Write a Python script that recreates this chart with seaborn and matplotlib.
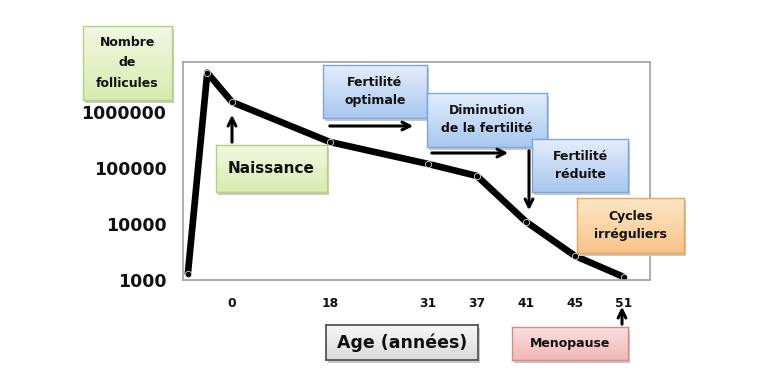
import numpy as np
import matplotlib
matplotlib.use('Agg')
import matplotlib.pyplot as plt
from matplotlib.colors import LinearSegmentedColormap
from matplotlib.patches import FancyArrowPatch
import seaborn as sns

# follicle count through life
AGES = [-0.75, -0.42, 0, 18, 31, 37, 41, 45, 51]
FOLLICLES = [1300, 5000000, 1500000, 290000, 118000, 72000, 11000, 2700, 1130]
AGE_TICKS = [0, 18, 31, 37, 41, 45, 51]
COUNT_TICKS = [1000, 10000, 100000, 1000000]

# the age axis is not linear: late ticks are evenly spaced
AGE_BREAKS = [-1, 0, 18, 31, 37, 41, 45, 51, 60]
SLOT_BREAKS = [-1.2, 0, 2, 4, 5, 6, 7, 8, 9.5]

W, H = 775, 371


def frac(x0, y0, x1, y1):
    # pixel box (top-left origin) -> figure fraction rect
    return [x0 / W, 1 - y1 / H, (x1 - x0) / W, (y1 - y0) / H]


def pt(x, y):
    return (x / W, 1 - y / H)


def box(fig, x0, y0, x1, y1, text, top, bottom, edge, size, lw=1.0, ls=1.5):
    sh = fig.add_axes(frac(x0 + 2, y0 + 3, x1 + 2, y1 + 3))
    sh.set_facecolor('#c8c8c8')
    sh.set_xticks([]); sh.set_yticks([])
    for s in sh.spines.values():
        s.set_visible(False)
    bx = fig.add_axes(frac(x0, y0, x1, y1))
    cmap = LinearSegmentedColormap.from_list('grad', [top, bottom])
    bx.imshow(np.linspace(0, 1, 60).reshape(-1, 1), cmap=cmap, aspect='auto',
              extent=(0, 1, 0, 1))
    bx.set_xlim(0, 1); bx.set_ylim(0, 1)
    bx.set_xticks([]); bx.set_yticks([])
    for s in bx.spines.values():
        s.set_color(edge)
        s.set_linewidth(lw)
    bx.text(0.5, 0.5, text, ha='center', va='center', fontsize=size,
            fontweight='bold', linespacing=ls, color='#111111')


def arrow(fig, tail, head):
    a = FancyArrowPatch(pt(*tail), pt(*head), transform=fig.transFigure,
                        arrowstyle='->', mutation_scale=14, lw=2.2,
                        color='black', zorder=10)
    fig.add_artist(a)


sns.set_style('white')
plt.rcParams['font.family'] = ['DejaVu Sans']

fig = plt.figure(figsize=(W / 100, H / 100), dpi=100)
ax = fig.add_axes(frac(183, 62, 650, 280))

ax.set_xscale('function', functions=(lambda a: np.interp(a, AGE_BREAKS, SLOT_BREAKS),
                                     lambda s: np.interp(s, SLOT_BREAKS, AGE_BREAKS)))
ax.set_yscale('log')

sns.lineplot(x=AGES, y=FOLLICLES, ax=ax, color='black', lw=4.8, sort=False,
             marker='o', markersize=4.5, markerfacecolor='black',
             markeredgecolor='#dddddd', markeredgewidth=0.6)

ax.set_xlim(-0.833, 54.2)
ax.set_ylim(1000, 10 ** 6.89)
ax.set_xticks(AGE_TICKS)
ax.set_xticklabels([str(a) for a in AGE_TICKS], fontsize=8.8, fontweight='bold',
                   color='#111111')
ax.set_yticks(COUNT_TICKS)
ax.set_yticklabels([str(c) for c in COUNT_TICKS], fontsize=12.5, fontweight='bold',
                   color='#111111')
ax.yaxis.set_minor_locator(matplotlib.ticker.NullLocator())
ax.tick_params(axis='x', direction='in', length=6, width=1, color='#777777', pad=12)
ax.tick_params(axis='y', length=0, pad=12)
ax.set_xlabel('')
ax.set_ylabel('')
for s in ax.spines.values():
    s.set_color('#a0a0a0')
    s.set_linewidth(1.2)

green = ('#f2f8e2', '#d8ebb0', '#b3d47c')
blue = ('#e3edfb', '#a9c7ef', '#7ea6da')

box(fig, 83, 26, 172, 100, 'Nombre\nde\nfollicules', *green, 9, ls=1.75)
box(fig, 216, 145, 327, 192, 'Naissance', *green, 11)
box(fig, 323, 65, 427, 118, 'Fertilité\noptimale', *blue, 9)
box(fig, 427, 93, 547, 147, 'Diminution\nde la fertilité', *blue, 9)
box(fig, 532, 139, 628, 192, 'Fertilité\nréduite', *blue, 9)
box(fig, 577, 198, 684, 253, 'Cycles\nirréguliers', '#fde6c6', '#f9c48a', '#eea35a', 9)
box(fig, 512, 327, 628, 360, 'Menopause', '#fbe0e0', '#f3b6b6', '#d98a8a', 9)
box(fig, 326, 325, 478, 360, 'Age (années)', '#f7f7f7', '#dadada', '#555555', 12.5, lw=1.3)

arrow(fig, (232, 145), (232, 112))
arrow(fig, (327, 126), (416, 126))
arrow(fig, (429, 153), (511, 153))
arrow(fig, (529, 148), (529, 213))
arrow(fig, (622, 327), (622, 304))

fig.savefig('out.png', dpi=100)
